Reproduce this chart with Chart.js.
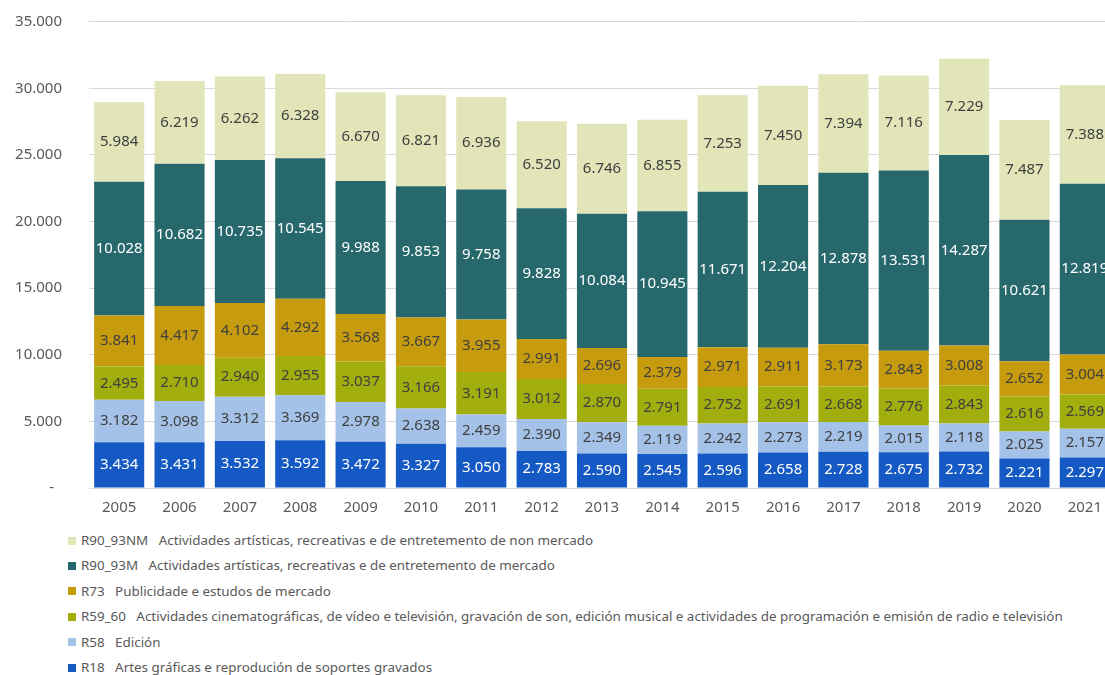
<!DOCTYPE html>
<html>
<head>
<meta charset="utf-8">
<script src="https://cdn.jsdelivr.net/npm/chart.js@4"></script>
<style>
  html, body { margin: 0; padding: 0; background: #fff; overflow: hidden; width: 1105px; height: 675px; }
  #wrap { position: absolute; left: 0; top: 0; width: 1115px; height: 528px; }
  #legend { position: absolute; left: 68px; top: 528px; font-family: "Noto Sans", sans-serif; font-size: 13.4px; color: #595959; }
  .li { height: 25.4px; line-height: 25.4px; white-space: pre; display: flex; align-items: center; }
  .sw { width: 8px; height: 8px; margin-right: 5px; flex: none; }
</style>
</head>
<body>
<div id="wrap"><canvas id="c"></canvas></div>
<div id="legend"></div>
<script>
const years = ['2005','2006','2007','2008','2009','2010','2011','2012','2013','2014','2015','2016','2017','2018','2019','2020','2021'];
const r18    = [3434, 3431, 3532, 3592, 3472, 3327, 3050, 2783, 2590, 2545, 2596, 2658, 2728, 2675, 2732, 2221, 2297];
const r58    = [3182, 3098, 3312, 3369, 2978, 2638, 2459, 2390, 2349, 2119, 2242, 2273, 2219, 2015, 2118, 2025, 2157];
const r59_60 = [2495, 2710, 2940, 2955, 3037, 3166, 3191, 3012, 2870, 2791, 2752, 2691, 2668, 2776, 2843, 2616, 2569];
const r73    = [3841, 4417, 4102, 4292, 3568, 3667, 3955, 2991, 2696, 2379, 2971, 2911, 3173, 2843, 3008, 2652, 3004];
const r90_93m  = [10028, 10682, 10735, 10545, 9988, 9853, 9758, 9828, 10084, 10945, 11671, 12204, 12878, 13531, 14287, 10621, 12819];
const r90_93nm = [5984, 6219, 6262, 6328, 6670, 6821, 6936, 6520, 6746, 6855, 7253, 7450, 7394, 7116, 7229, 7487, 7388];
const seriesNames = [
  'R18   Artes gráficas e reprodución de soportes gravados',
  'R58   Edición',
  'R59_60   Actividades cinematográficas, de vídeo e televisión, gravación de son, edición musical e actividades de programación e emisión de radio e televisión',
  'R73   Publicidade e estudos de mercado',
  'R90_93M   Actividades artísticas, recreativas e de entretemento de mercado',
  'R90_93NM   Actividades artísticas, recreativas e de entretemento de non mercado'
];
const yTicks = [0, 5000, 10000, 15000, 20000, 25000, 30000, 35000];

const colors = ['#1559C4', '#A4C1E8', '#A2AD0E', '#C79B0E', '#27686C', '#E1E5B8'];
const labelColors = ['#ffffff', '#404040', '#404040', '#404040', '#ffffff', '#404040'];
const values = [r18, r58, r59_60, r73, r90_93m, r90_93nm];

function fmt(v) { return String(v).replace(/\B(?=(\d{3})+(?!\d))/g, '.'); }

const FONT = '"Noto Sans", sans-serif';

const barLabels = {
  id: 'barLabels',
  afterDatasetsDraw(chart) {
    const ctx = chart.ctx;
    ctx.save();
    ctx.font = '15px ' + FONT;
    ctx.textAlign = 'center';
    ctx.textBaseline = 'middle';
    chart.data.datasets.forEach((ds, i) => {
      const meta = chart.getDatasetMeta(i);
      meta.data.forEach((bar, j) => {
        const p = bar.getProps(['x', 'y', 'base'], true);
        ctx.fillStyle = labelColors[i];
        ctx.fillText(fmt(ds.data[j]), p.x, (p.y + p.base) / 2);
      });
    });
    ctx.restore();
  }
};

const chart = new Chart(document.getElementById('c'), {
  type: 'bar',
  data: {
    labels: years,
    datasets: values.map((v, i) => ({
      label: seriesNames[i],
      data: v,
      backgroundColor: colors[i],
      borderWidth: 0,
      barPercentage: 0.83,
      categoryPercentage: 1.0
    }))
  },
  options: {
    responsive: true,
    maintainAspectRatio: false,
    animation: false,
    layout: { padding: 0 },
    plugins: { legend: { display: false }, tooltip: { enabled: false } },
    scales: {
      x: {
        stacked: true,
        afterFit(scale) { scale.height = 40; },
        grid: { display: false, drawTicks: false },
        border: { display: true, color: '#d9d9d9' },
        ticks: { color: '#595959', font: { family: FONT, size: 15 }, padding: 11 }
      },
      y: {
        stacked: true,
        min: 0, max: 35000,
        afterBuildTicks(scale) { scale.ticks = yTicks.map(v => ({ value: v })); },
        afterFit(scale) { scale.width = 89; scale.paddingTop = 21.7; scale.paddingBottom = 0; },
        grid: { color: '#d9d9d9', drawTicks: false },
        border: { display: false },
        ticks: {
          color: '#595959',
          font: { family: FONT, size: 15 },
          padding: 27,
          callback: v => v === 0 ? '-  ' : fmt(v)
        }
      }
    }
  },
  plugins: [barLabels]
});

const lg = document.getElementById('legend');
for (let i = values.length - 1; i >= 0; i--) {
  const row = document.createElement('div');
  row.className = 'li';
  const sw = document.createElement('span');
  sw.className = 'sw';
  sw.style.background = colors[i];
  const t = document.createElement('span');
  t.textContent = seriesNames[i];
  row.appendChild(sw); row.appendChild(t);
  lg.appendChild(row);
}
</script>
</body>
</html>
